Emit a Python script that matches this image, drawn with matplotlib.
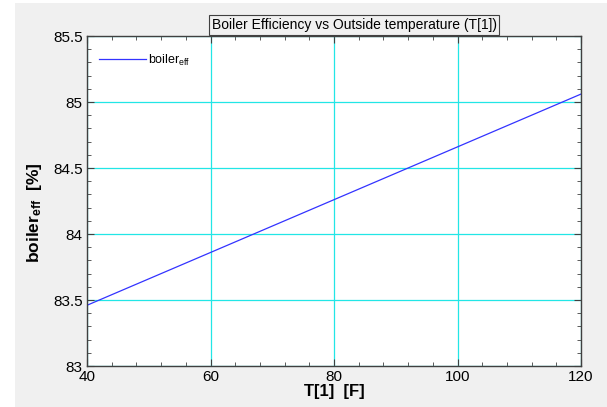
import numpy as np
import matplotlib
matplotlib.use('Agg')
import matplotlib.pyplot as plt
from matplotlib.patches import Rectangle
from matplotlib.ticker import MultipleLocator

# ---- data ----
outside_temp = [40, 60, 80, 100, 120]            # T[1] [F]
boiler_eff = [83.46, 83.86, 84.26, 84.66, 85.06]  # [%]

x_ticks = [40, 60, 80, 100, 120]
y_ticks = [83, 83.5, 84, 84.5, 85, 85.5]
y_tick_labels = ['83', '83.5', '84', '84.5', '85', '85.5']

plt.rcParams['font.family'] = ['Liberation Sans', 'DejaVu Sans']
plt.rcParams['mathtext.fontset'] = 'custom'
plt.rcParams['mathtext.rm'] = 'Liberation Sans'
plt.rcParams['mathtext.bf'] = 'Liberation Sans:bold'
plt.rcParams['mathtext.it'] = 'Liberation Sans:italic'

fig = plt.figure(figsize=(6.07, 4.07), dpi=100, facecolor='white')
# grey panel like the original window (white strip on left/top)
fig.patches.append(Rectangle((15 / 607, 0), 1, 1 - 3 / 407, transform=fig.transFigure,
                             facecolor='#f0f0f0', edgecolor='none', zorder=-10))
ax = fig.add_axes([87 / 607, 1 - 366 / 407, 494 / 607, 330 / 407])
ax.set_facecolor('white')

ax.plot(outside_temp, boiler_eff, color='#3333ff', lw=0.9, label=r'boiler$_{\mathrm{eff}}$')

ax.set_xlim(40, 120)
ax.set_ylim(83, 85.5)
ax.set_xticks(x_ticks)
ax.set_xticklabels([str(v) for v in x_ticks])
ax.set_yticks(y_ticks)
ax.set_yticklabels(y_tick_labels)
ax.xaxis.set_minor_locator(MultipleLocator(4))
ax.yaxis.set_minor_locator(MultipleLocator(0.1))
ax.tick_params(which='both', direction='in', top=True, right=True, color='#404040')
ax.tick_params(which='major', length=5, labelsize=11, pad=3)
ax.tick_params(which='minor', length=3)
ax.grid(True, which='major', color='#22e6e6', lw=0.9)
ax.set_axisbelow(True)
for s in ax.spines.values():
    s.set_color('#404040')
    s.set_linewidth(1.0)

ax.set_xlabel('T[1]  [F]', fontsize=12, fontweight='bold', labelpad=0)
ax.set_ylabel(r'boiler$_{\mathbf{eff}}$  [%]', fontsize=12.5, fontweight='bold')
ax.yaxis.set_label_coords(-0.087, 0.465)

fig.text(354 / 607, 1 - 25 / 407, 'Boiler Efficiency vs Outside temperature (T[1])',
         fontsize=10, ha='center', va='center',
         bbox=dict(boxstyle='square,pad=0.2', facecolor='#f0f0f0', edgecolor='#404040', lw=0.8))

leg = ax.legend(loc='upper left', bbox_to_anchor=(0, 0.985), frameon=False, fontsize=9,
                handlelength=3.8, handletextpad=0.1, borderaxespad=0.55)

fig.savefig('out.png', dpi=100, facecolor=fig.get_facecolor())
